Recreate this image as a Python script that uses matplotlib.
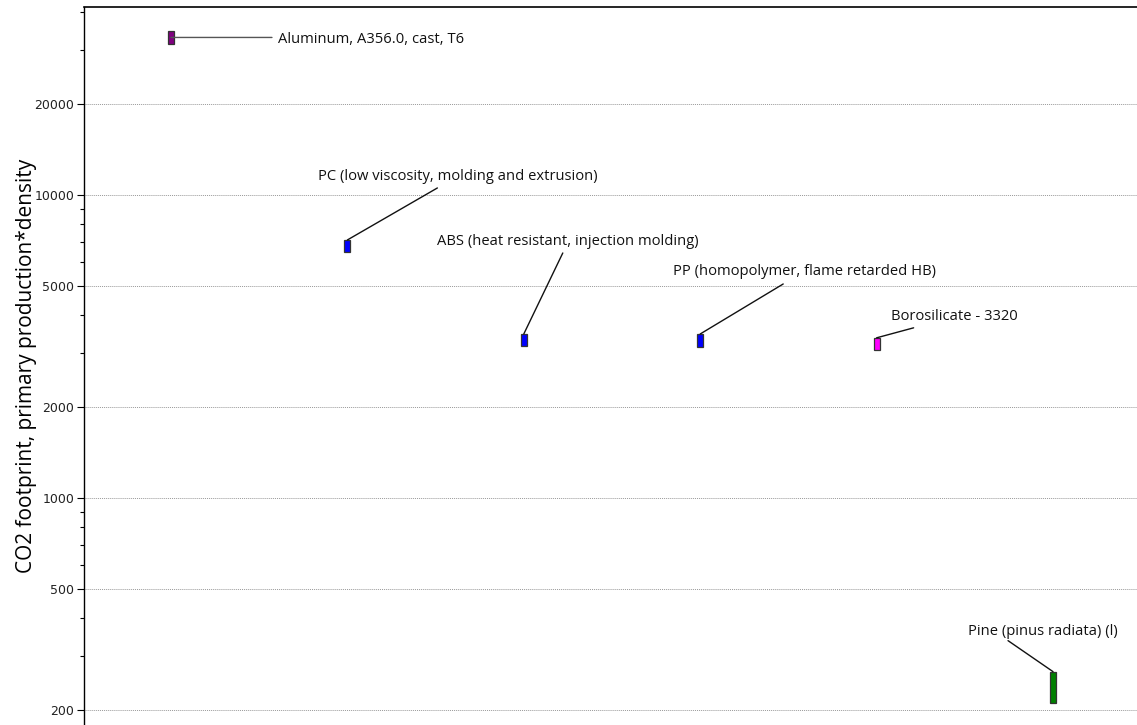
import numpy as np
import matplotlib.pyplot as plt
from matplotlib.ticker import FixedLocator, NullFormatter

# CO2 footprint ranges for each material (low / high)
materials = ['Aluminum, A356.0, cast, T6',
             'PC (low viscosity, molding and extrusion)',
             'ABS (heat resistant, injection molding)',
             'PP (homopolymer, flame retarded HB)',
             'Borosilicate - 3320',
             'Pine (pinus radiata) (l)']
co2_low = [31500, 6490, 3180, 3150, 3077, 210]
co2_high = [34750, 7100, 3475, 3475, 3375, 267]
colors = ['#800080', '#0000ff', '#0000ff', '#0000ff', '#ff00ff', '#008000']

major_ticks = [200, 500, 1000, 2000, 5000, 10000, 20000]

# leader line end and text position, pixel offsets from the attach point
line_off = [(101, 0), (90, 52), (39, 81), (83, 50), (37, 10), (-45, 31)]
text_off = [(107, -2), (-29, 63), (-87, 92), (-27, 62), (14, 21), (-85, 40)]

fig = plt.figure(figsize=(11.37, 7.25), dpi=100)
ax = fig.add_axes([84 / 1137, 0, 1 - 84 / 1137, 1 - 7 / 725])

x = np.arange(1, len(materials) + 1)
low = np.array(co2_low)
high = np.array(co2_high)
ax.bar(x, high - low, bottom=low, width=0.034, color=colors,
       edgecolor='#333333', linewidth=0.9, zorder=3)

ax.set_yscale('log')
ax.set_ylim(178, 41700)
ax.set_xlim(0.507, 6.476)

ax.yaxis.set_major_locator(FixedLocator(major_ticks))
ax.set_yticklabels([str(t) for t in major_ticks], fontsize=9, color='#222222')
minor = [v * m for v in (100, 1000, 10000) for m in range(2, 10)]
ax.yaxis.set_minor_locator(FixedLocator([v for v in minor if v not in major_ticks]))
ax.yaxis.set_minor_formatter(NullFormatter())
ax.tick_params(axis='y', which='major', length=5, width=0.8, pad=2)
ax.tick_params(axis='y', which='minor', length=3, width=0.8)
ax.set_xticks([])

ax.grid(axis='y', which='major', linestyle=(0, (1, 1)), color='#999999', linewidth=0.7)
ax.spines['right'].set_visible(False)
ax.spines['bottom'].set_visible(False)
ax.spines['top'].set_linewidth(1.2)
ax.spines['left'].set_linewidth(1.0)

ax.set_ylabel('CO2 footprint, primary production*density', fontsize=15,
              family='Open Sans', labelpad=-2)

for i, name in enumerate(materials):
    # aluminum is tagged at mid-height, the rest at the top of the bar
    if i == 0:
        yv = np.sqrt(low[i] * high[i])
    else:
        yv = high[i]
    ax.annotate('', xy=(x[i], yv), xytext=line_off[i], textcoords='offset pixels',
                arrowprops=dict(arrowstyle='-', color='#555555' if i == 0 else '#111111',
                                lw=1.0, shrinkA=0, shrinkB=0))
    ax.annotate(name, xy=(x[i], yv), xytext=text_off[i], textcoords='offset pixels',
                ha='left', va='center', fontsize=10.6, family='Open Sans', color='#111111')

fig.savefig('out.png', dpi=100)
